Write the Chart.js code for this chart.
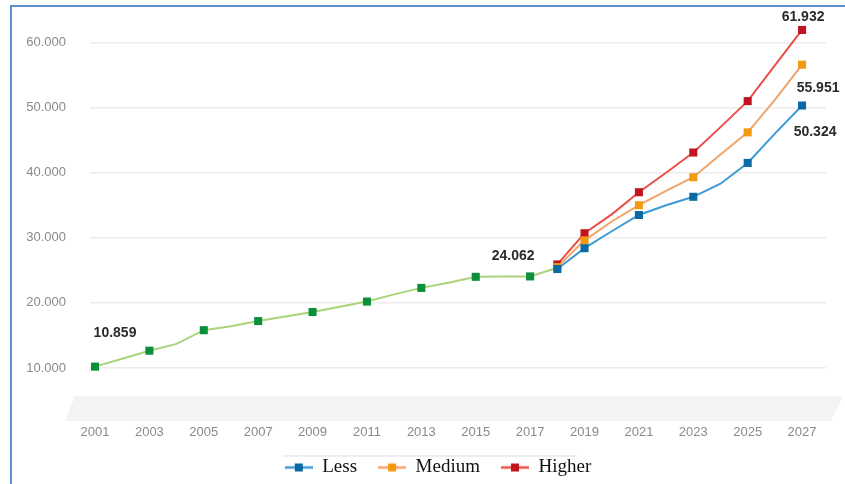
<!DOCTYPE html>
<html>
<head>
<meta charset="utf-8">
<script src="https://cdn.jsdelivr.net/npm/chart.js@4.4.1/dist/chart.umd.min.js"></script>
<style>
  html, body { margin: 0; padding: 0; background: #fff; }
  #wrap { position: relative; width: 845px; height: 484px; }
  #frame { position: absolute; left: 10px; top: 5px; right: 0; bottom: 0;
           border-left: 2px solid #5a8fd2; border-top: 2px solid #5a8fd2; pointer-events: none; }
</style>
</head>
<body>
<div id="wrap">
  <canvas id="growth" width="845" height="484"></canvas>
  <div id="frame"></div>
</div>
<script>
// history, one value per year 2001..2018
const histYears = [2001, 2002, 2003, 2004, 2005, 2006, 2007, 2008, 2009, 2010, 2011, 2012, 2013, 2014, 2015, 2016, 2017, 2018];
const history = [10200, 11400, 12650, 13700, 15800, 16400, 17200, 17900, 18600, 19400, 20200, 21300, 22300, 23100, 24000, 24050, 24062, 25400];

// forecast 2018..2027
const fcYears = [2018, 2019, 2020, 2021, 2022, 2023, 2024, 2025, 2026, 2027];
const less = [25200, 28400, 31000, 33500, 35000, 36300, 38300, 41500, 46000, 50324];
const medium = [25500, 29600, 32500, 35000, 37200, 39300, 42800, 46200, 51200, 56600];
const higher = [25900, 30700, 33600, 37000, 40000, 43100, 47000, 51000, 56500, 61932];

const xTicks = [2001, 2003, 2005, 2007, 2009, 2011, 2013, 2015, 2017, 2019, 2021, 2023, 2025, 2027];
const yTicks = [10000, 20000, 30000, 40000, 50000, 60000];
const seriesNames = ['Less', 'Medium', 'Higher'];

// value callouts: dataset index, year, text
const callouts = [
  { ds: 3, year: 2001, text: '10.859', dx: 20, dy: -33 },
  { ds: 3, year: 2017, text: '24.062', dx: -17, dy: -20 },
  { ds: 2, year: 2027, text: '61.932', dx: 1, dy: -13 },
  { ds: 1, year: 2027, text: '55.951', dx: 16, dy: 23 },
  { ds: 0, year: 2027, text: '50.324', dx: 13, dy: 27 }
];

const pts = (years, vals) => years.map((y, i) => ({ x: y, y: vals[i] }));
const R = 5.7;
const histRadius = histYears.map(y => (y % 2 === 1 ? R : 0));
const fcRadius = fcYears.map(y => (y % 2 === 1 || y === 2018 ? R : 0));

function legendIcon(line, mark) {
  const c = document.createElement('canvas');
  c.width = 28; c.height = 10;
  const g = c.getContext('2d');
  g.strokeStyle = line; g.lineWidth = 2.5;
  g.beginPath(); g.moveTo(0, 5); g.lineTo(28, 5); g.stroke();
  g.fillStyle = mark; g.fillRect(10, 1, 8, 8);
  return c;
}

const lineCols = ['#3d9ad6', '#f0a468', '#ea4e46'];
const markCols = ['#0b69a3', '#f39a10', '#c0151f'];

function fcSet(i, vals) {
  return {
    label: seriesNames[i],
    data: pts(fcYears, vals),
    borderColor: lineCols[i],
    backgroundColor: markCols[i],
    pointBackgroundColor: markCols[i],
    pointBorderColor: markCols[i],
    pointBorderWidth: 0,
    pointStyle: 'rect',
    pointRadius: fcRadius,
    borderWidth: 2,
    tension: 0,
    clip: false
  };
}

const floorPlugin = {
  id: 'floor',
  afterLayout(chart) {
    // nudge the legend to where the original sits
    const lg = chart.legend;
    lg.left += 25; lg.right += 25;
    lg.top -= 7; lg.bottom -= 7;
  },
  beforeDraw(chart) {
    const { ctx, chartArea: a } = chart;
    ctx.save();
    ctx.fillStyle = '#f3f3f3';
    ctx.beginPath();
    ctx.moveTo(75, a.bottom - 24);
    ctx.lineTo(843, a.bottom - 24);
    ctx.lineTo(831, a.bottom + 1);
    ctx.lineTo(65, a.bottom + 1);
    ctx.closePath();
    ctx.fill();
    ctx.restore();
  },
  afterDraw(chart) {
    // thin rule above the legend
    const lg = chart.legend;
    if (!lg || !lg.legendHitBoxes.length) return;
    const hb = lg.legendHitBoxes;
    const last = hb[hb.length - 1];
    const ctx = chart.ctx;
    ctx.save();
    ctx.strokeStyle = '#eeeeee';
    ctx.lineWidth = 2;
    ctx.beginPath();
    ctx.moveTo(hb[0].left - 2, hb[0].top - 2);
    ctx.lineTo(last.left + last.width - 15, hb[0].top - 2);
    ctx.stroke();
    ctx.restore();
  }
};

const calloutPlugin = {
  id: 'callouts',
  afterDatasetsDraw(chart) {
    const ctx = chart.ctx;
    ctx.save();
    ctx.font = 'bold 14px "Liberation Sans", Arial, sans-serif';
    ctx.fillStyle = '#2b2b2b';
    ctx.textAlign = 'center';
    ctx.textBaseline = 'middle';
    callouts.forEach(c => {
      const ds = chart.data.datasets[c.ds];
      const idx = ds.data.findIndex(p => p.x === c.year);
      const el = chart.getDatasetMeta(c.ds).data[idx];
      ctx.fillText(c.text, el.x + c.dx, el.y + c.dy);
    });
    ctx.restore();
  }
};

const data = {
  datasets: [
    fcSet(0, less),
    fcSet(1, medium),
    fcSet(2, higher),
    {
      label: 'History',
      data: pts(histYears, history),
      borderColor: '#a9d47a',
      pointBackgroundColor: '#0b8f3b',
      pointBorderColor: '#0b8f3b',
      pointBorderWidth: 0,
      pointStyle: 'rect',
      pointRadius: histRadius,
      borderWidth: 2,
      tension: 0,
      clip: false
    }
  ]
};

const config = {
  type: 'line',
  data,
  options: {
    responsive: false,
    animation: false,
    layout: { padding: { top: 10, right: 19, bottom: -10, left: 0 } },
    plugins: {
      title: { display: false },
      tooltip: { enabled: false },
      legend: {
        position: 'bottom',
        labels: {
          usePointStyle: true,
          pointStyleWidth: 28,
          padding: 21,
          color: '#111',
          font: { family: '"Liberation Serif", "Times New Roman", serif', size: 19 },
          generateLabels: () => seriesNames.map((n, i) => ({
            text: n,
            pointStyle: legendIcon(lineCols[i], markCols[i]),
            datasetIndex: i,
            fontColor: '#111',
            hidden: false,
            lineWidth: 0,
            strokeStyle: 'transparent',
            fillStyle: 'transparent'
          }))
        }
      }
    },
    scales: {
      x: {
        type: 'linear',
        min: 2000.816,
        max: 2027.88,
        grid: { display: false, drawTicks: false },
        border: { display: false },
        afterBuildTicks: s => { s.ticks = xTicks.map(v => ({ value: v })); },
        afterFit: s => { s.height = 24; },
        ticks: {
          padding: 5,
          color: '#8a8a8a',
          font: { family: '"Liberation Sans", Arial, sans-serif', size: 13 },
          callback: v => String(v)
        }
      },
      y: {
        min: 2000,
        max: 65000,
        grid: { color: '#ececec', lineWidth: 1.5, drawTicks: false },
        border: { display: false },
        afterBuildTicks: s => { s.ticks = yTicks.map(v => ({ value: v })); },
        afterFit: s => { s.width = 90; s.paddingTop = 0; s.paddingBottom = 0; },
        ticks: {
          padding: 24,
          color: '#8a8a8a',
          font: { family: '"Liberation Sans", Arial, sans-serif', size: 13 },
          callback: v => (v / 1000).toFixed(3)
        }
      }
    }
  },
  plugins: [floorPlugin, calloutPlugin]
};

const growthChart = new Chart(document.getElementById('growth'), config);
</script>
</body>
</html>
